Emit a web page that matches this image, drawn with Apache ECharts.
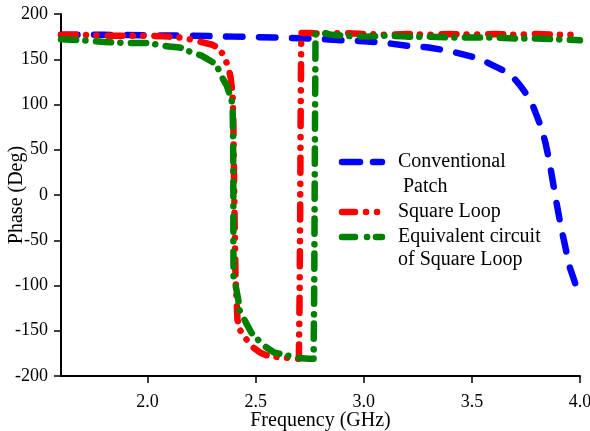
<!DOCTYPE html>
<html>
<head>
<meta charset="utf-8">
<script src="https://cdn.jsdelivr.net/npm/echarts@6/dist/echarts.min.js"></script>
<style>
  html, body { margin: 0; padding: 0; background: #fff; }
  #chart { width: 590px; height: 431px; }
</style>
</head>
<body>
<div id="chart"></div>
<script>
// Reflection phase versus frequency for three structures.

// Conventional patch
const patchFreq  = [1.6, 1.8, 2.0, 2.2, 2.4, 2.6, 2.8, 2.9, 3.0, 3.1, 3.2, 3.3, 3.4, 3.45, 3.5, 3.55, 3.6, 3.65, 3.68, 3.72, 3.75, 3.78, 3.82, 3.84, 3.86, 3.885, 3.91, 3.93, 3.95, 3.97, 3.986];
const patchPhase = [177, 177, 176.5, 176, 175, 174, 172.5, 171, 170, 168, 165, 163, 159, 156, 153, 149, 143, 137, 133, 122, 112, 100, 75, 58, 35, 0, -33, -55, -78, -92, -104];

// Square loop (full-wave simulation)
const loopFreq  = [1.6, 1.7, 1.8, 1.9, 2.0, 2.1, 2.15, 2.2, 2.25, 2.3, 2.33, 2.35, 2.375, 2.385, 2.392, 2.395, 2.398, 2.4, 2.403, 2.407, 2.412, 2.416, 2.43, 2.449, 2.486, 2.52, 2.55, 2.6, 2.65, 2.7, 2.703, 2.706, 2.708, 2.711, 2.75, 2.8, 2.9, 3.0, 3.1, 3.2, 3.3, 3.4, 3.5, 3.6, 3.7, 3.8, 3.9, 4.0];
const loopPhase = [177, 177, 176, 176, 176, 175, 174, 172, 169, 166, 162, 155, 141, 129, 114, 102, 64, 20, -30, -90, -116, -138, -150, -157, -168, -174, -177, -179, -180, -181, -120, -20, 80, 179, 179, 178, 179, 178, 177, 178, 177, 178, 177, 178, 177, 178, 177, 177];

// Equivalent circuit of the square loop
const circuitFreq  = [1.6, 1.7, 1.8, 1.9, 2.0, 2.05, 2.1, 2.15, 2.2, 2.25, 2.3, 2.32, 2.345, 2.366, 2.389, 2.394, 2.396, 2.397, 2.397, 2.398, 2.41, 2.42, 2.425, 2.455, 2.48, 2.535, 2.585, 2.64, 2.7, 2.745, 2.768, 2.771, 2.773, 2.775, 2.777, 2.8, 2.85, 2.9, 3.0, 3.1, 3.2, 3.3, 3.4, 3.5, 3.6, 3.7, 3.8, 3.9, 4.0];
const circuitPhase = [172, 171, 169, 168, 168, 166, 164, 163, 158, 154, 147, 143, 130, 121, 105, 93, 60, 0, -50, -90, -103, -116, -127, -141, -152, -166, -174, -177, -180, -181, -181, -100, 0, 100, 178, 180, 177, 176, 175, 176, 175, 175, 174, 174, 174, 173, 173, 172, 171];

const seriesNames = ['Conventional Patch', 'Square Loop', 'Equivalent circuit of Square Loop'];
const xTickValues = [2.0, 2.5, 3.0, 3.5, 4.0];

const pairs = (xs, ys) => xs.map((x, i) => [x, ys[i]]);

const BLUE = '#0000ff', RED = '#ff0000', GREEN = '#008000';
const FONT = '"Liberation Serif", "Times New Roman", serif';
const LW = 6.5;

const chart = echarts.init(document.getElementById('chart'), null, { renderer: 'canvas' });

function lineSeries(name, data, color, dash) {
  return {
    name, type: 'line', data,
    symbol: 'none', showSymbol: false, smooth: false,
    lineStyle: { color, width: LW, type: dash, cap: 'round', join: 'round' },
    itemStyle: { color },
    emphasis: { disabled: true },
    animation: false
  };
}

// Legend drawn as graphic items so each sample sits beside the first text line
function legendLine(x1, x2, y, color, dash) {
  return {
    type: 'line',
    shape: { x1, y1: y, x2, y2: y },
    style: { stroke: color, lineWidth: LW, lineDash: dash, lineCap: 'round' },
    silent: true
  };
}
function legendText(x, y, text) {
  return {
    type: 'text', x, y,
    style: { text, font: '20px ' + FONT, fill: '#000', textVerticalAlign: 'middle', textAlign: 'left' },
    silent: true
  };
}

chart.setOption({
  backgroundColor: '#fff',
  animation: false,
  grid: { left: 61, right: 10, top: 14, bottom: 55, containLabel: false, outerBoundsMode: 'none' },
  xAxis: {
    type: 'value', min: 1.6, max: 4.0,
    name: 'Frequency (GHz)', nameLocation: 'middle', nameGap: 35, nameMoveOverlap: false,
    nameTextStyle: { fontFamily: FONT, fontSize: 20, color: '#000' },
    axisLine: { onZero: false, lineStyle: { color: '#000', width: 2 } },
    axisTick: { show: true, inside: false, length: 7, customValues: xTickValues, lineStyle: { color: '#000', width: 1.5 } },
    axisLabel: { customValues: xTickValues, margin: 17, fontFamily: FONT, fontSize: 18, color: '#000', formatter: v => v.toFixed(1) },
    splitLine: { show: false }
  },
  yAxis: {
    type: 'value', min: -200, max: 200, interval: 50,
    name: 'Phase (Deg)', nameLocation: 'middle', nameGap: 34, nameRotate: 90, nameMoveOverlap: false,
    nameTextStyle: { fontFamily: FONT, fontSize: 20, color: '#000' },
    axisLine: { show: true, lineStyle: { color: '#000', width: 2 } },
    axisTick: { show: true, inside: false, length: 7, lineStyle: { color: '#000', width: 1.5 } },
    axisLabel: { margin: 13, fontFamily: FONT, fontSize: 18, color: '#000' },
    splitLine: { show: false }
  },
  series: [
    lineSeries(seriesNames[0], pairs(patchFreq, patchPhase), BLUE, [16.5, 16.5]),
    lineSeries(seriesNames[1], pairs(loopFreq, loopPhase), RED, [15, 10, 0.1, 10.5, 0.1, 11]),
    lineSeries(seriesNames[2], pairs(circuitFreq, circuitPhase), GREEN, [15.2, 9.2, 0.1, 10.5])
  ],
  graphic: [
    legendLine(342, 382, 162, BLUE, [18, 13, 9, 20]),
    legendText(398, 162, 'Conventional'),
    legendText(403, 187, 'Patch'),
    legendLine(342, 378, 212, RED, [13, 11, 0.1, 10.9, 0.1, 20]),
    legendText(398, 212, 'Square Loop'),
    legendLine(342, 382, 237, GREEN, [13, 12, 0.1, 8.9, 6, 20]),
    legendText(398, 237, 'Equivalent circuit'),
    legendText(398, 260, 'of Square Loop')
  ]
});
</script>
</body>
</html>
